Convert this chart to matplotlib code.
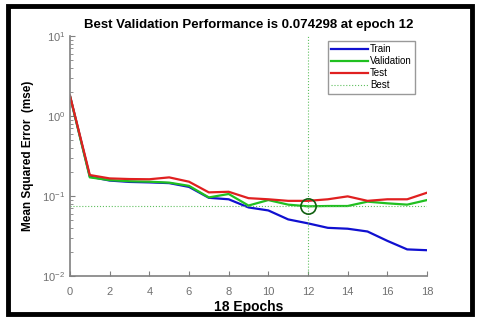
import numpy as np
import matplotlib.pyplot as plt
from matplotlib.patches import Rectangle
plt.rc('font', family='Arial', size=8)
plt.rcParams['font.family'] = ['Liberation Sans', 'DejaVu Sans']

epochs = np.arange(0, 19)
train = [1.78, 0.175, 0.156, 0.150, 0.148, 0.145, 0.130, 0.095, 0.091, 0.072,
         0.066, 0.051, 0.0455, 0.040, 0.039, 0.036, 0.0275, 0.0215, 0.021]
valid = [1.78, 0.171, 0.158, 0.153, 0.151, 0.147, 0.134, 0.096, 0.106, 0.076,
         0.089, 0.078, 0.074298, 0.075, 0.075, 0.085, 0.081, 0.078, 0.089]
test = [1.80, 0.183, 0.166, 0.163, 0.162, 0.171, 0.151, 0.111, 0.113, 0.094,
        0.091, 0.087, 0.087, 0.091, 0.099, 0.087, 0.091, 0.091, 0.110]
best_epoch = 12
best_val = 0.074298

fig = plt.figure(figsize=(4.8, 3.22), dpi=100)
ax = fig.add_axes([0.1458, 0.1429, 0.7438, 0.7451])

ax.plot(epochs, train, color='#1010d0', lw=1.6, label='Train')
ax.plot(epochs, valid, color='#20c020', lw=1.6, label='Validation')
ax.plot(epochs, test, color='#e02020', lw=1.6, label='Test')
ax.axhline(best_val, color='#60c060', lw=0.8, ls=':', label='Best')
ax.axvline(best_epoch, color='#60c060', lw=0.8, ls=':')
ax.plot(best_epoch, best_val, 'o', ms=11, mfc='none', mec='#106010', mew=1.2)

ax.set_yscale('log')
ax.set_ylim(1e-2, 10)
ax.set_xlim(0, 18)
ax.set_xticks(np.arange(0, 19, 2))
for s in ['top', 'right']:
    ax.spines[s].set_visible(False)
for s in ['left', 'bottom']:
    ax.spines[s].set_color('#808080')
    ax.spines[s].set_linewidth(1.2)
ax.tick_params(which='both', direction='in', colors='#808080', labelcolor='#707070', labelsize=8)
ax.tick_params(axis='x', pad=8)

ax.set_title('Best Validation Performance is 0.074298 at epoch 12', fontsize=9.5, fontweight='bold', pad=6)
ax.set_xlabel('18 Epochs', fontsize=10, fontweight='bold', labelpad=2)
ax.set_ylabel('Mean Squared Error  (mse)', fontsize=8.5, fontweight='bold', labelpad=6)

leg = ax.legend(loc='upper right', fontsize=7, frameon=True, fancybox=False,
                handlelength=3.8, handletextpad=0.2, labelspacing=0.2,
                borderpad=0.35, bbox_to_anchor=(0.98, 1.0))
leg.get_frame().set_edgecolor('#808080')
leg.get_frame().set_linewidth(1.0)

fig.patches.append(Rectangle((0.016, 0.025), 0.968, 0.955, transform=fig.transFigure,
                             fill=False, edgecolor='black', lw=3.5))

fig.savefig('out.png', dpi=100)
